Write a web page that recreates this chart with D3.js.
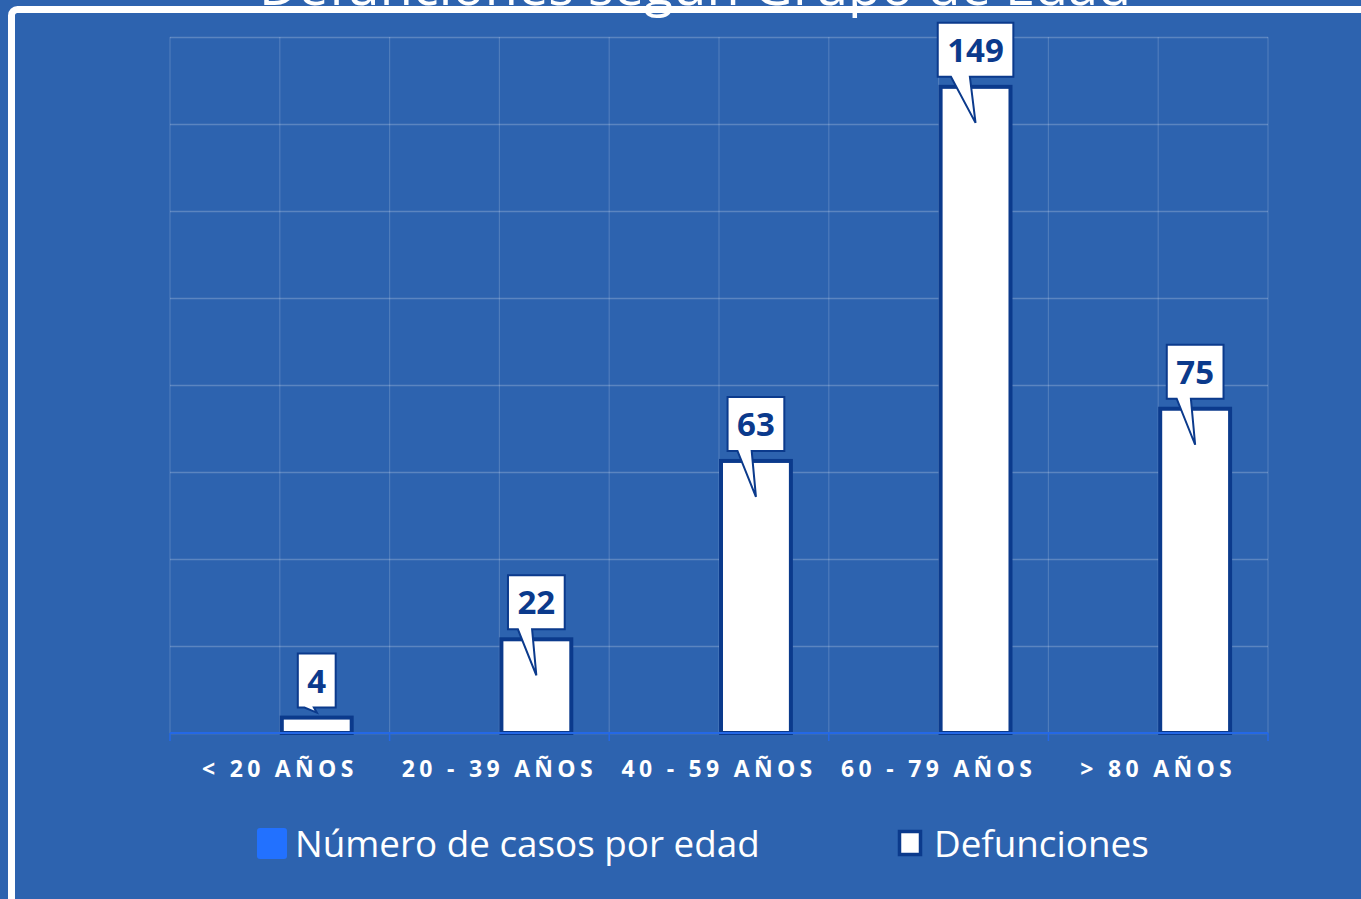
<!DOCTYPE html>
<html>
<head>
<meta charset="utf-8">
<script src="https://cdn.jsdelivr.net/npm/d3@7"></script>
<style>
  html, body { margin: 0; padding: 0; background: #2D63AF; overflow: hidden; }
  svg { display: block; font-family: "Open Sans", sans-serif; }
</style>
</head>
<body>
<svg id="chart"></svg>
<script>
// data
var categories = ["< 20 AÑOS", "20 - 39 AÑOS", "40 - 59 AÑOS", "60 - 79 AÑOS", "> 80 AÑOS"];
var seriesNames = ["Número de casos por edad", "Defunciones"];
var casos = [null, null, null, null, null]; // not shown in the picture
var defunciones = [4, 22, 63, 149, 75];
var yTicks = [0, 20, 40, 60, 80, 100, 120, 140, 160];
var title = "Defunciones según Grupo de Edad";

var width = 1361, height = 899;
var bg = "#2D63AF", dark = "#0B3A8C", axisBlue = "#2468E6";

var svg = d3.select("#chart")
    .attr("width", width)
    .attr("height", height);

svg.append("rect").attr("width", width).attr("height", height).attr("fill", bg);

var plot = {left: 170, right: 1268, top: 37, bottom: 733};

var x = d3.scaleBand()
    .domain(categories)
    .range([plot.left, plot.right])
    .padding(0);

var xs = d3.scaleBand()
    .domain(seriesNames)
    .range([0, x.bandwidth()])
    .paddingInner(0)
    .paddingOuter(0.486);

var y = d3.scaleLinear()
    .domain([0, 160])
    .range([plot.bottom, plot.top]);

// gridlines
var grid = svg.append("g").attr("class", "grid");
grid.selectAll("line.h")
    .data(yTicks)
  .enter().append("line")
    .attr("x1", plot.left).attr("x2", plot.right)
    .attr("y1", function(d) { return y(d) + 0.5; })
    .attr("y2", function(d) { return y(d) + 0.5; })
    .attr("stroke", "rgba(255,255,255,0.22)")
    .attr("stroke-width", 1.5);

// vertical grid: category edges and centres
var vlines = [];
categories.forEach(function(c) { vlines.push(x(c)); vlines.push(x(c) + x.bandwidth() / 2); });
vlines.push(plot.right);
grid.selectAll("line.v")
    .data(vlines)
  .enter().append("line")
    .attr("x1", function(d) { return d; }).attr("x2", function(d) { return d; })
    .attr("y1", plot.top).attr("y2", plot.bottom)
    .attr("stroke", "rgba(255,255,255,0.16)")
    .attr("stroke-width", 1.2);

// x axis
var xAxis = d3.axisBottom(x).tickSize(0).tickPadding(28);
var gx = svg.append("g")
    .attr("transform", "translate(0," + plot.bottom + ")")
    .call(xAxis);
gx.select(".domain").remove();
gx.selectAll("text")
    .attr("fill", "#fff")
    .attr("font-size", 23)
    .attr("font-weight", "bold")
    .style("letter-spacing", "4.3px")
    .attr("font-family", "'Open Sans', sans-serif");

// bars
var barG = svg.append("g");
barG.selectAll("rect.bar")
    .data(defunciones)
  .enter().append("rect")
    .attr("class", "bar")
    .attr("x", function(d, i) { return x(categories[i]) + xs("Defunciones") + 2; })
    .attr("width", xs.bandwidth() - 4)
    .attr("y", function(d) { return y(d) + 2; })
    .attr("height", function(d) { return y(0) - y(d) - 2; })
    .attr("fill", "#fff")
    .attr("stroke", dark)
    .attr("stroke-width", 4);

// axis line + ticks
var axisG = svg.append("g");
axisG.append("line")
    .attr("x1", plot.left).attr("x2", plot.right)
    .attr("y1", plot.bottom).attr("y2", plot.bottom)
    .attr("stroke", axisBlue).attr("stroke-width", 2);
var edges = categories.map(function(c) { return x(c); }).concat([plot.right]);
axisG.selectAll("line.tick")
    .data(edges)
  .enter().append("line")
    .attr("x1", function(d) { return d; }).attr("x2", function(d) { return d; })
    .attr("y1", plot.bottom).attr("y2", plot.bottom + 8)
    .attr("stroke", axisBlue).attr("stroke-width", 1.5);

// callout labels
var labG = svg.append("g");
defunciones.forEach(function(v, i) {
  var cx = x(categories[i]) + xs("Defunciones") + xs.bandwidth() / 2;
  var top = y(v);
  var g = labG.append("g");
  var t = g.append("text")
      .attr("x", cx)
      .attr("text-anchor", "middle")
      .attr("font-size", 33)
      .attr("font-weight", "bold")
      .attr("fill", dark)
      .text(v);
  var tw = t.node().getComputedTextLength();
  var half = tw / 2 + 9.5;
  var bBottom = top - 8, bTop = bBottom - 54;
  var tipY = (y(0) - top) > 50 ? top + 38 : bBottom + 5;
  var bl = cx - half * 0.65, br = cx - half * 0.15;
  var p = "M" + (cx - half) + "," + bTop +
          "H" + (cx + half) +
          "V" + bBottom +
          "H" + br +
          "L" + cx + "," + tipY +
          "L" + bl + "," + bBottom +
          "H" + (cx - half) + "Z";
  g.insert("path", "text")
      .attr("d", p)
      .attr("fill", "#fff")
      .attr("stroke", dark)
      .attr("stroke-width", 2)
      .attr("stroke-linejoin", "miter");
  t.attr("y", bTop + 39);
});

// legend
var leg = svg.append("g");
leg.append("rect")
    .attr("x", 257).attr("y", 828).attr("width", 30).attr("height", 31).attr("rx", 3)
    .attr("fill", "#2271FF");
leg.append("text")
    .attr("x", 295).attr("y", 857)
    .attr("font-size", 36.8).attr("fill", "#fff")
    .text(seriesNames[0]);
leg.append("rect")
    .attr("x", 899.5).attr("y", 831.5).attr("width", 21).attr("height", 23)
    .attr("fill", "#fff").attr("stroke", dark).attr("stroke-width", 3.5);
leg.append("text")
    .attr("x", 934).attr("y", 857)
    .attr("font-size", 36.8).attr("fill", "#fff")
    .text(seriesNames[1]);

// frame
svg.append("rect")
    .attr("x", 11.5).attr("y", 9.5)
    .attr("width", 1500).attr("height", 1200)
    .attr("rx", 6)
    .attr("fill", "none")
    .attr("stroke", "#fff")
    .attr("stroke-width", 7);

// title (cut by the top edge, as in the source image)
svg.append("text")
    .attr("x", 695).attr("y", 5)
    .attr("text-anchor", "middle")
    .attr("font-size", 54)
    .attr("fill", "#fff")
    .text(title);
</script>
</body>
</html>
